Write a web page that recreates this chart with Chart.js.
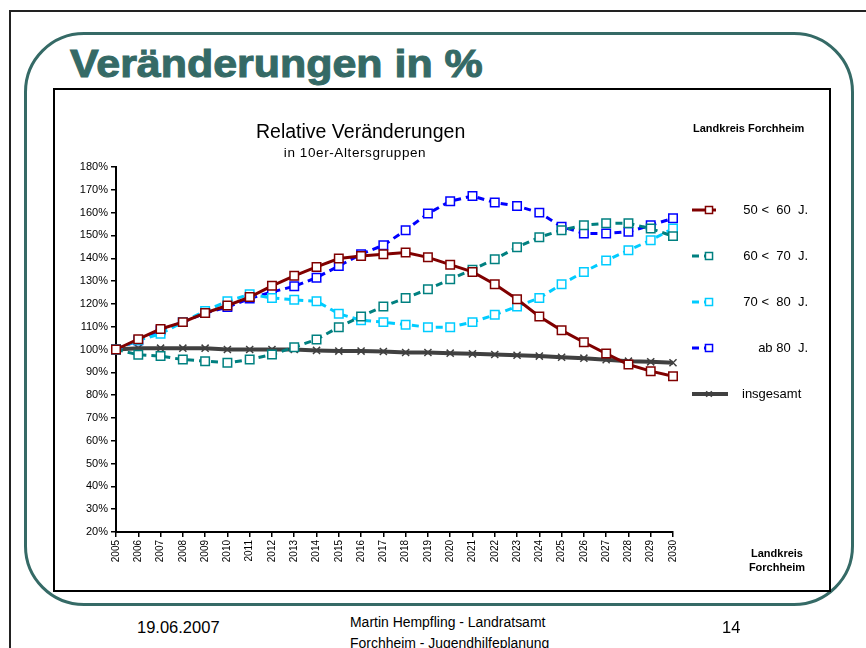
<!DOCTYPE html>
<html>
<head>
<meta charset="utf-8">
<script src="https://cdn.jsdelivr.net/npm/chart.js@4"></script>
<style>
  body { margin: 0; width: 866px; height: 648px; background: #fff; overflow: hidden; position: relative; font-family: "Liberation Sans", Arial, sans-serif; }
  .abs { position: absolute; white-space: nowrap; }
  #outer { left: 9px; top: 10px; width: 900px; height: 700px; border: 2px solid #222; box-sizing: border-box; }
  #frame { left: 24px; top: 32px; width: 830px; height: 574px; border: 3px solid #356a66; border-radius: 60px; box-sizing: border-box; }
  #box { left: 53px; top: 88px; width: 778px; height: 504px; border: 2px solid #000; box-sizing: border-box; background: #fff; }
  #title { left: 70px; top: 45px; font-size: 38px; line-height: 38px; font-weight: bold; color: #356a66; transform: scaleX(1.13); transform-origin: left top; -webkit-text-stroke: 1px #356a66; }
  #chartWrap { left: 55px; top: 90px; width: 774px; height: 500px; }
  .narrow { transform: scaleX(0.9); transform-origin: center top; }
</style>
</head>
<body>
<div id="outer" class="abs"></div>
<div id="frame" class="abs"></div>
<div id="title" class="abs">Veränderungen in %</div>
<div id="box" class="abs"></div>
<div id="chartWrap" class="abs"><canvas id="chart" width="774" height="500"></canvas></div>

<div class="abs" style="left:256px;top:122px;width:200px;text-align:center;font-size:19.5px;line-height:19.5px;">Relative Veränderungen</div>
<div class="abs" style="left:255px;top:146px;width:200px;text-align:center;font-size:13.5px;line-height:13.5px;letter-spacing:0.6px;">in 10er-Altersgruppen</div>
<div class="abs" style="left:693px;top:123px;font-size:11px;line-height:11px;font-weight:bold;">Landkreis Forchheim</div>
<div class="abs" style="left:727px;top:546px;width:100px;text-align:center;font-size:11px;line-height:14px;font-weight:bold;">Landkreis<br>Forchheim</div>

<div class="abs" style="left:137px;top:619px;font-size:16.5px;line-height:16.5px;">19.06.2007</div>
<div class="abs narrow" style="left:340px;top:611px;width:200px;text-align:center;font-size:15.5px;line-height:21px;">Martin Hempfling - Landratsamt<br>Forchheim - Jugendhilfeplanung</div>
<div class="abs" style="left:722px;top:619px;font-size:16.5px;line-height:16.5px;">14</div>

<script>
// Jahre (x-Achse)
const years = ['2005', '2006', '2007', '2008', '2009', '2010', '2011', '2012', '2013', '2014', '2015', '2016', '2017',
    '2018', '2019', '2020', '2021', '2022', '2023', '2024', '2025', '2026', '2027', '2028', '2029', '2030'];

// Relative Veraenderung in % je Altersgruppe
const age50to60 = [100, 104.5, 109, 112, 116, 119.3, 123, 127.9, 132.3, 136.2, 139.9, 141, 141.8,
    142.5, 140.4, 137.2, 134, 128.6, 122, 114.5, 108.4, 103.2, 98.2, 93.4, 90.5, 88.3];
const age60to70 = [100, 97.7, 97.1, 95.6, 94.9, 94.2, 95.6, 97.8, 101, 104.4, 109.8, 114.5, 118.9,
    122.6, 126.4, 130.8, 135, 139.6, 144.8, 149.2, 152.3, 154.5, 155.3, 155.3, 153, 149.7];
const age70to80 = [100, 104, 106.9, 112, 116.9, 121.1, 124.2, 122.6, 121.8, 121.1, 115.7, 112.8, 112,
    110.9, 109.8, 109.8, 112, 115.2, 118.9, 122.6, 128.6, 134, 139, 143.5, 147.9, 153];
const ageFrom80 = [100, 104, 108.4, 112, 116, 118.6, 122.3, 125.2, 127.7, 131.5, 136.6, 141.8, 145.7,
    152.3, 159.6, 165, 167.3, 164.4, 162.9, 160, 153.8, 150.9, 150.9, 151.6, 154.5, 157.5];
const total = [100, 100.6, 100.6, 100.6, 100.6, 100, 100, 100, 100, 99.6, 99.3, 99.3, 99.1,
    98.7, 98.7, 98.4, 98.1, 97.8, 97.5, 97.1, 96.6, 96.2, 95.5, 94.9, 94.6, 94.2];

const seriesNames = ['50 <  60  J.', '60 <  70  J.', '70 <  80  J.', 'ab 80  J.', 'insgesamt'];

// y-Achse 20% .. 180%
const yMin = 20;
const yMax = 180;
const yStep = 10;

function squareSeries(label, data, color, dash) {
    return {
        label: label,
        data: data,
        borderColor: color,
        borderWidth: 3,
        borderDash: dash,
        pointStyle: 'rect',
        pointRadius: 6,
        pointBorderWidth: 1.5,
        pointBorderColor: color,
        pointBackgroundColor: '#fff',
        tension: 0,
        clip: false
    };
}

// eigene Legende rechts (Linie + Marker wie in Excel)
const sideLegend = {
    id: 'sideLegend',
    afterDraw(chart) {
        const ctx = chart.ctx;
        const rows = [120, 166, 212, 258, 304];
        chart.data.datasets.forEach((ds, i) => {
            const y = rows[i];
            const isTotal = i === 4;
            ctx.save();
            ctx.strokeStyle = ds.borderColor;
            ctx.lineWidth = ds.borderWidth;
            ctx.setLineDash(ds.borderDash || []);
            ctx.beginPath();
            ctx.moveTo(637, y);
            ctx.lineTo(isTotal ? 673 : 661, y);
            ctx.stroke();
            ctx.setLineDash([]);
            ctx.strokeStyle = ds.pointBorderColor;
            ctx.fillStyle = ds.pointBackgroundColor;
            ctx.lineWidth = ds.pointBorderWidth;
            Chart.helpers.drawPoint(ctx, { pointStyle: ds.pointStyle, radius: isTotal ? 4 : 5, rotation: 0, borderWidth: ds.pointBorderWidth }, 654, y);
            ctx.fillStyle = '#000';
            ctx.font = '13px "Liberation Sans", Arial, sans-serif';
            ctx.textBaseline = 'middle';
            if (isTotal) {
                ctx.textAlign = 'left';
                ctx.fillText(ds.label, 687, y);
            } else {
                ctx.textAlign = 'right';
                ctx.fillText(ds.label, 753, y);
            }
            ctx.restore();
        });
    }
};

new Chart(document.getElementById('chart'), {
    type: 'line',
    data: {
        labels: years,
        datasets: [
            squareSeries(seriesNames[0], age50to60, '#800000', []),
            squareSeries(seriesNames[1], age60to70, '#008080', [7, 5]),
            squareSeries(seriesNames[2], age70to80, '#00ccff', [7, 5]),
            squareSeries(seriesNames[3], ageFrom80, '#0000ff', [7, 5]),
            {
                label: seriesNames[4],
                data: total,
                borderColor: '#404040',
                borderWidth: 4,
                pointStyle: 'crossRot',
                pointRadius: 5,
                pointBorderWidth: 1.5,
                pointBorderColor: '#404040',
                pointBackgroundColor: '#404040',
                tension: 0,
                clip: false
            }
        ]
    },
    options: {
        responsive: false,
        animation: false,
        devicePixelRatio: 1,
        layout: { padding: { top: 77, right: 156, bottom: 0, left: 0 } },
        plugins: {
            legend: { display: false },
            title: { display: false },
            tooltip: { enabled: false }
        },
        scales: {
            x: {
                type: 'category',
                offset: false,
                afterFit: (scale) => { scale.height = 58; },
                grid: { display: true, drawOnChartArea: false, drawTicks: true, tickLength: 5, color: '#000', lineWidth: 1.5 },
                border: { display: true, color: '#000', width: 2 },
                ticks: {
                    autoSkip: false,
                    minRotation: 90,
                    maxRotation: 90,
                    padding: 3,
                    color: '#000',
                    font: { family: '"Liberation Sans", Arial, sans-serif', size: 10 }
                }
            },
            y: {
                min: yMin,
                max: yMax,
                afterFit: (scale) => { scale.width = 61; },
                grid: { display: true, drawOnChartArea: false, drawTicks: true, tickLength: 5, color: '#000', lineWidth: 1.5 },
                border: { display: true, color: '#000', width: 2 },
                ticks: {
                    stepSize: yStep,
                    padding: 3,
                    color: '#000',
                    font: { family: '"Liberation Sans", Arial, sans-serif', size: 11 },
                    callback: (v) => v + '%'
                }
            }
        }
    },
    plugins: [sideLegend]
});
</script>
</body>
</html>
